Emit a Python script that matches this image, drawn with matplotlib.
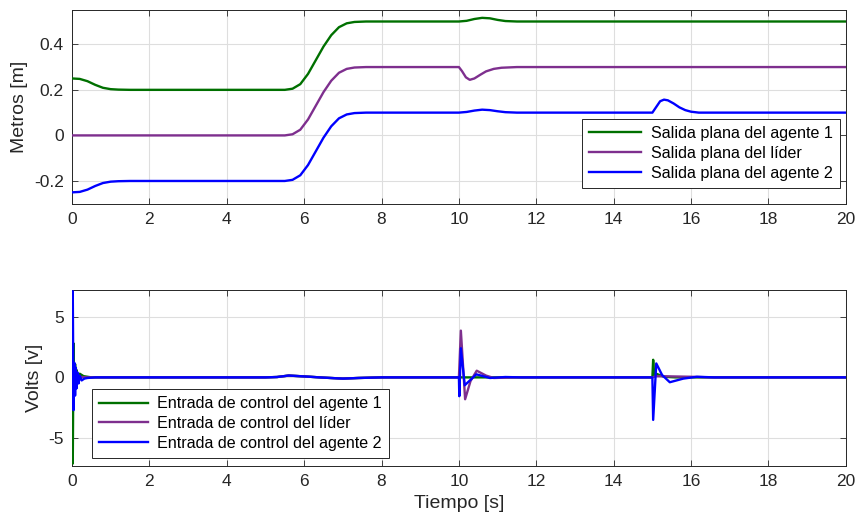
import matplotlib
matplotlib.use("Agg")
import matplotlib.pyplot as plt

plt.rcParams['font.family'] = ['Liberation Sans', 'DejaVu Sans']
plt.rcParams['axes.unicode_minus'] = False

# colores tipo MATLAB
c_ag1 = '#007000'
c_lid = '#7E2F8E'
c_ag2 = '#0000FF'

# ---- salidas planas (arriba) ----
t_ag1 = [0, 0.2, 0.4, 0.6, 0.8, 1.0, 1.2, 1.5, 5.5, 5.7, 5.9, 6.1, 6.3, 6.5, 6.7, 6.9, 7.1, 7.3, 7.6,
         10.0, 10.2, 10.4, 10.6, 10.8, 11.0, 11.2, 11.5, 20]
y_ag1 = [0.25, 0.248, 0.238, 0.222, 0.209, 0.203, 0.201, 0.2, 0.2, 0.205, 0.225, 0.27, 0.33, 0.39, 0.44,
         0.475, 0.492, 0.498, 0.5, 0.5, 0.503, 0.511, 0.516, 0.514, 0.507, 0.502, 0.5, 0.5]

t_lid = [0, 5.5, 5.7, 5.9, 6.1, 6.3, 6.5, 6.7, 6.9, 7.1, 7.3, 7.6,
         10.0, 10.08, 10.18, 10.28, 10.4, 10.55, 10.7, 10.9, 11.1, 11.5, 20]
y_lid = [0, 0, 0.005, 0.025, 0.07, 0.13, 0.19, 0.24, 0.275, 0.292, 0.298, 0.3,
         0.3, 0.282, 0.255, 0.244, 0.25, 0.266, 0.281, 0.292, 0.297, 0.3, 0.3]

t_ag2 = [0, 0.2, 0.4, 0.6, 0.8, 1.0, 1.2, 1.5, 5.5, 5.7, 5.9, 6.1, 6.3, 6.5, 6.7, 6.9, 7.1, 7.3, 7.6,
         10.0, 10.2, 10.4, 10.6, 10.8, 11.0, 11.2, 11.5,
         15.0, 15.1, 15.2, 15.3, 15.4, 15.55, 15.7, 15.85, 16.0, 16.2, 20]
y_ag2 = [-0.25, -0.248, -0.238, -0.222, -0.209, -0.203, -0.201, -0.2, -0.2, -0.195, -0.175, -0.13, -0.07,
         -0.01, 0.04, 0.075, 0.092, 0.098, 0.1, 0.1, 0.103, 0.109, 0.113, 0.111, 0.106, 0.102, 0.1,
         0.1, 0.125, 0.15, 0.157, 0.154, 0.14, 0.123, 0.111, 0.104, 0.1, 0.1]

# ---- entradas de control (abajo) ----
tu_ag1 = [0, 0.02, 0.04, 0.06, 0.08, 0.1, 0.12, 0.15, 0.2, 0.3, 0.5, 5.0, 5.3, 5.6, 6.0, 6.5, 7.0, 7.4, 8.0,
          15.0, 15.02, 15.05, 15.1, 15.3, 15.6, 20]
u_ag1 = [0, -7.1, 2.8, -1.0, 1.1, -0.3, 0.6, 0.1, 0.3, 0.1, 0.0, 0, 0.03, 0.15, 0.08, -0.02, -0.1, -0.05, 0,
         0, 1.45, 0.1, 0.3, 0.05, 0, 0]

tu_lid = [0, 0.03, 0.06, 0.09, 0.15, 0.4, 5.0, 5.3, 5.6, 6.0, 6.5, 7.0, 7.4, 8.0,
          10.0, 10.05, 10.16, 10.3, 10.46, 10.7, 10.9, 11.5, 15.0, 15.1, 15.5, 16.0, 16.5, 20]
u_lid = [0, 0.3, -0.2, 0.15, 0.05, 0, 0, 0.03, 0.15, 0.08, -0.02, -0.1, -0.05, 0,
         0, 3.85, -1.8, -0.3, 0.55, 0.15, -0.05, 0, 0, 0.1, 0.08, 0.05, 0, 0]

tu_ag2 = [0, 0.02, 0.04, 0.06, 0.08, 0.1, 0.12, 0.14, 0.17, 0.2, 0.25, 0.32, 0.4, 0.6,
          5.0, 5.3, 5.6, 6.0, 6.5, 7.0, 7.4, 8.0,
          10.0, 10.01, 10.05, 10.15, 10.45, 10.8, 11.2, 11.6,
          15.0, 15.02, 15.1, 15.25, 15.45, 15.8, 16.15, 16.6, 20]
u_ag2 = [0, 7.1, -2.7, 1.2, -1.5, 0.8, -0.9, 0.4, -0.5, 0.15, -0.25, -0.1, -0.05, 0,
         0, 0.03, 0.15, 0.08, -0.02, -0.1, -0.05, 0,
         0, -1.55, 2.4, -0.65, 0.25, -0.05, 0.03, 0,
         0, -3.5, 1.15, 0.2, -0.4, -0.1, 0.05, 0, 0]

xticks = [0, 2, 4, 6, 8, 10, 12, 14, 16, 18, 20]
xticklabels = ['0', '2', '4', '6', '8', '10', '12', '14', '16', '18', '20']
yticks_top = [-0.2, 0, 0.2, 0.4]
yticklabels_top = ['-0.2', '0', '0.2', '0.4']
yticks_bot = [-5, 0, 5]
yticklabels_bot = ['-5', '0', '5']

fig = plt.figure(figsize=(8.57, 5.32), dpi=100)
ax1 = fig.add_axes([0.084, 0.617, 0.903, 0.364])
ax2 = fig.add_axes([0.084, 0.124, 0.903, 0.331])


def estilo(ax):
    ax.grid(True, color='#dedede', linewidth=0.8)
    ax.set_axisbelow(True)
    ax.tick_params(direction='in', length=4, width=0.6, top=True, right=True,
                   labelsize=12.5, colors='#262626', pad=6)
    for s in ax.spines.values():
        s.set_color('#262626')
        s.set_linewidth(0.7)
    ax.set_xlim(0, 20)
    ax.set_xticks(xticks)
    ax.set_xticklabels(xticklabels)


ax1.plot(t_ag1, y_ag1, color=c_ag1, lw=1.7, zorder=3, label='Salida plana del agente 1')
ax1.plot(t_lid, y_lid, color=c_lid, lw=1.7, zorder=3, label='Salida plana del líder')
ax1.plot(t_ag2, y_ag2, color=c_ag2, lw=1.7, zorder=3, label='Salida plana del agente 2')
estilo(ax1)
ax1.set_ylim(-0.3, 0.55)
ax1.set_yticks(yticks_top)
ax1.set_yticklabels(yticklabels_top)
ax1.set_ylabel('Metros [m]', fontsize=14, color='#262626')
leg1 = ax1.legend(loc='lower right', bbox_to_anchor=(0.992, 0.082), fontsize=11.6, fancybox=False,
                  edgecolor='#262626', framealpha=1, handlelength=3.2, borderpad=0.45,
                  labelspacing=0.3, borderaxespad=0, handletextpad=0.6)
leg1.get_frame().set_linewidth(0.7)

ax2.plot(tu_ag1, u_ag1, color=c_ag1, lw=1.7, zorder=3, label='Entrada de control del agente 1')
ax2.plot(tu_lid, u_lid, color=c_lid, lw=1.7, zorder=3, label='Entrada de control del líder')
ax2.plot(tu_ag2, u_ag2, color=c_ag2, lw=1.7, zorder=3, label='Entrada de control del agente 2')
estilo(ax2)
ax2.set_ylim(-7.3, 7.2)
ax2.set_yticks(yticks_bot)
ax2.set_yticklabels(yticklabels_bot)
ax2.set_ylabel('Volts [v]', fontsize=14, color='#262626')
ax2.set_xlabel('Tiempo [s]', fontsize=14, color='#262626')
leg2 = ax2.legend(loc='lower left', bbox_to_anchor=(0.026, 0.045), fontsize=11.6, fancybox=False,
                  edgecolor='#262626', framealpha=1, handlelength=3.0, borderpad=0.45,
                  labelspacing=0.3, borderaxespad=0, handletextpad=0.6)
leg2.get_frame().set_linewidth(0.7)

fig.savefig('out.png', dpi=100)
